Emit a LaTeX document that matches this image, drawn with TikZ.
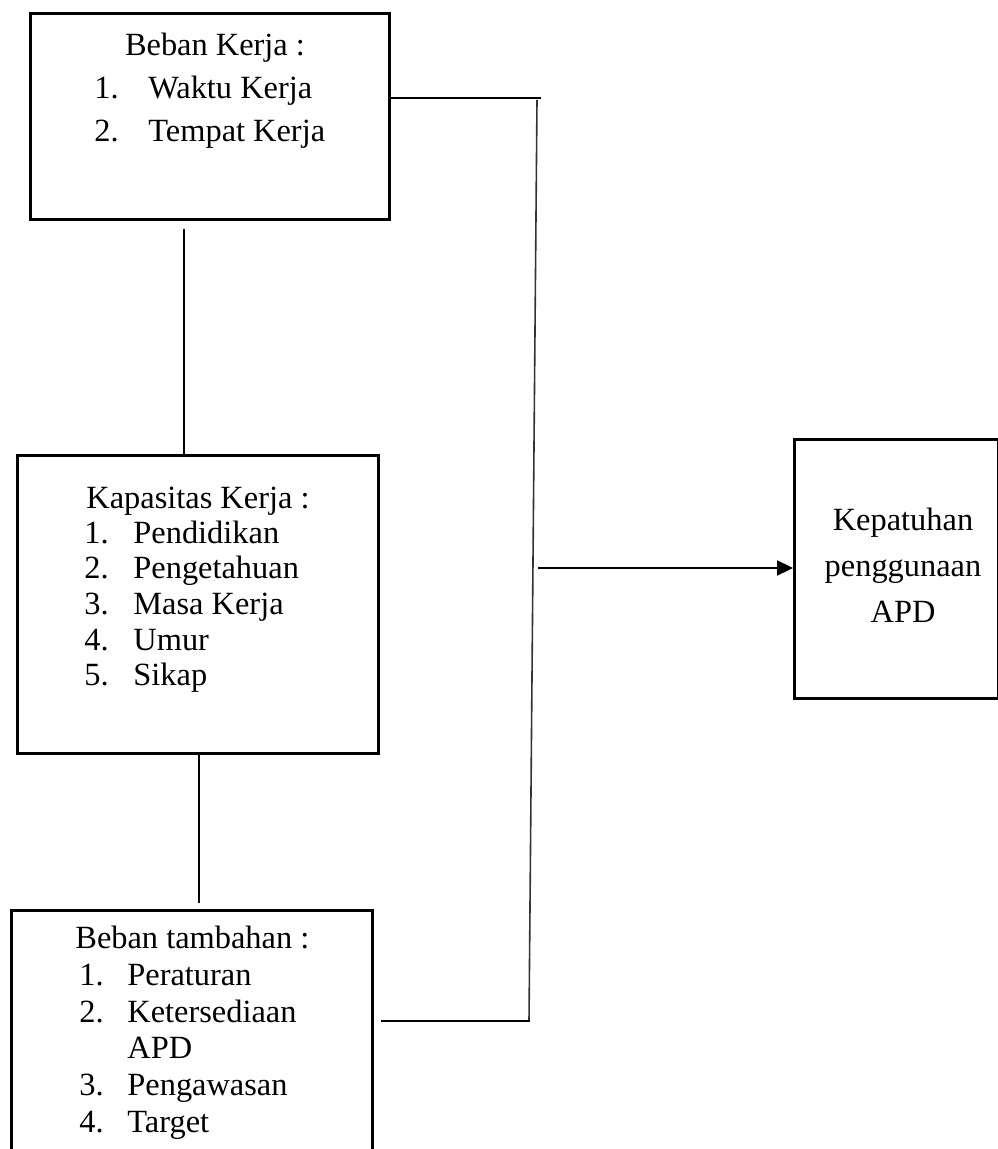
\documentclass[tikz,border=0pt]{standalone}
\usepackage{fontspec}
\setmainfont{Liberation Serif}
\usetikzlibrary{arrows.meta}
\begin{document}
\begin{tikzpicture}[x=0.5pt,y=-0.5pt,
  box/.style={draw=black, line width=1.4pt, inner sep=0pt, anchor=north west},
  txt/.style={inner sep=0pt, anchor=base west, font=\fontsize{16.2}{18}\selectfont},
  ctxt/.style={inner sep=0pt, anchor=base, font=\fontsize{16.2}{18}\selectfont},
  conn/.style={draw=black, line width=1.1pt},
  trunk/.style={draw=black!80, line width=0.8pt}]
\useasboundingbox (0,0) rectangle (997,1149);
% boxes
\node[box, minimum width=179.5pt, minimum height=103pt] (b1) at (29,12) {};
\node[box, minimum width=180.5pt, minimum height=149pt] (b2) at (16,454) {};
\node[box, minimum width=180.5pt, minimum height=130pt] (b3) at (10,909) {};
\node[box, minimum width=102pt, minimum height=129.5pt] (b4) at (793,438) {};
% box 1 text
\node[ctxt] (t1h) at (215,56) {Beban Kerja :};
\node[txt] (t1n1) at (94,99) {1.};
\node[txt] (t1i1) at (148,99) {Waktu Kerja};
\node[txt] (t1n2) at (94,142) {2.};
\node[txt] (t1i2) at (148,142) {Tempat Kerja};
% box 2 text
\node[txt] (t2h) at (86,508) {Kapasitas Kerja :};
\node[txt] (t2n1) at (84,543) {1.};
\node[txt] (t2i1) at (133,543) {Pendidikan};
\node[txt] (t2n2) at (84,578) {2.};
\node[txt] (t2i2) at (133,578) {Pengetahuan};
\node[txt] (t2n3) at (84,614) {3.};
\node[txt] (t2i3) at (133,614) {Masa Kerja};
\node[txt] (t2n4) at (84,650) {4.};
\node[txt] (t2i4) at (133,650) {Umur};
\node[txt] (t2n5) at (84,685) {5.};
\node[txt] (t2i5) at (133,685) {Sikap};
% box 3 text
\node[txt] (t3h) at (75,948) {Beban tambahan :};
\node[txt] (t3n1) at (79,985) {1.};
\node[txt] (t3i1) at (127,985) {Peraturan};
\node[txt] (t3n2) at (79,1022) {2.};
\node[txt] (t3i2) at (127,1022) {Ketersediaan};
\node[txt] (t3i2b) at (127,1058) {APD};
\node[txt] (t3n3) at (79,1095) {3.};
\node[txt] (t3i3) at (127,1095) {Pengawasan};
\node[txt] (t3n4) at (79,1132) {4.};
\node[txt] (t3i4) at (127,1132) {Target};
% box 4 text
\node[ctxt] (t4a) at (903,530) {Kepatuhan};
\node[ctxt] (t4b) at (903,576) {penggunaan};
\node[ctxt] (t4c) at (903,622) {APD};
% connector points
\coordinate (c1a) at (184,229);
\coordinate (c1b) at (184,454);
\coordinate (c2a) at (199,752);
\coordinate (c2b) at (199,903);
\coordinate (h1a) at (390,98);
\coordinate (h1b) at (541,98);
\coordinate (v1a) at (537,100);
\coordinate (v1b) at (529,1021);
\coordinate (h2a) at (381,1021);
\coordinate (h2b) at (530,1021);
\coordinate (arA) at (538,568);
\coordinate (arB) at (793,568);
% connectors
\draw[conn] (c1a) -- (c1b);
\draw[conn] (c2a) -- (c2b);
\draw[conn] (h1a) -- (h1b);
\draw[trunk] (v1a) -- (v1b);
\draw[conn] (h2a) -- (h2b);
\draw[conn, -{Triangle[length=8pt,width=7.5pt]}] (arA) -- (arB);
\end{tikzpicture}
\end{document}
